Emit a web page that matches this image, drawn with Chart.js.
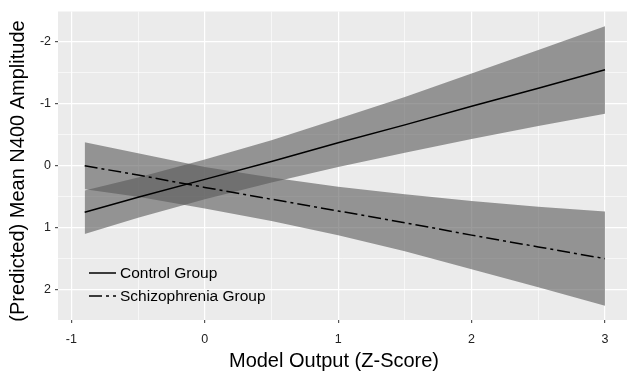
<!DOCTYPE html>
<html>
<head>
<meta charset="utf-8">
<script src="https://cdn.jsdelivr.net/npm/chart.js@4.4.0/dist/chart.umd.min.js"></script>
<style>
  body { margin: 0; background: #fff; }
  #wrap { width: 627px; height: 376px; position: relative; }
</style>
</head>
<body>
<div id="wrap"><canvas id="lineChart"></canvas></div>
<script>
// values
const xVals = [-0.9, -0.5, 0, 0.5, 1, 1.5, 2, 2.5, 3];
const controlFit = [0.75, 0.51, 0.22, -0.07, -0.37, -0.66, -0.96, -1.25, -1.55];
const controlUpper = [0.40, 0.19, -0.10, -0.41, -0.76, -1.11, -1.49, -1.87, -2.25];
const controlLower = [1.10, 0.84, 0.54, 0.27, 0.02, -0.21, -0.43, -0.64, -0.84];
const schizFit = [0.00, 0.15, 0.35, 0.54, 0.73, 0.92, 1.12, 1.31, 1.50];
const schizUpper = [-0.38, -0.20, 0.02, 0.19, 0.34, 0.46, 0.57, 0.66, 0.74];
const schizLower = [0.38, 0.50, 0.69, 0.89, 1.12, 1.38, 1.67, 1.96, 2.26];

const xTicks = [-1, 0, 1, 2, 3];
const xMinor = [-0.5, 0.5, 1.5, 2.5];
const yTicks = [-2, -1, 0, 1, 2];
const yMinor = [-1.5, -0.5, 0.5, 1.5];

const xTitle = "Model Output (Z-Score)";
const yTitle = "(Predicted) Mean N400 Amplitude";

const ribbonColor = "rgba(89, 89, 89, 0.6)";
const font = "'Liberation Sans', Arial, sans-serif";

const pts = (ys) => xVals.map((x, i) => ({ x: x, y: ys[i] }));

const isMajor = (v) => Number.isInteger(v);

const panelBg = {
  id: "panelBg",
  beforeDraw(chart) {
    const { ctx, chartArea: a } = chart;
    ctx.save();
    ctx.fillStyle = "#EBEBEB";
    ctx.fillRect(a.left, a.top, a.right - a.left, a.bottom - a.top);
    ctx.restore();
  }
};

const extras = {
  id: "extras",
  afterDraw(chart) {
    const { ctx } = chart;
    ctx.save();
    // axis titles
    ctx.fillStyle = "#000";
    ctx.font = "20px " + font;
    ctx.textAlign = "center";
    ctx.textBaseline = "middle";
    ctx.fillText(xTitle, 334, 361);
    ctx.translate(18, 171);
    ctx.rotate(-Math.PI / 2);
    ctx.fillText(yTitle, 0, 0);
    ctx.restore();

    // legend inside the panel
    ctx.save();
    ctx.font = "15.5px " + font;
    ctx.textBaseline = "middle";
    ctx.fillStyle = "#000";
    const rows = [273, 296];
    [0, 1].forEach((i, k) => {
      const ds = chart.data.datasets[i];
      ctx.beginPath();
      ctx.setLineDash(ds.borderDash || []);
      ctx.strokeStyle = ds.borderColor;
      ctx.lineWidth = ds.borderWidth;
      ctx.moveTo(89, rows[k]);
      ctx.lineTo(116, rows[k]);
      ctx.stroke();
      ctx.setLineDash([]);
      ctx.fillText(ds.label, 120, rows[k] + 1);
    });
    ctx.restore();
  }
};

const config = {
  type: "line",
  data: {
    datasets: [
      {
        label: "Control Group",
        data: pts(controlFit),
        borderColor: "#000",
        borderWidth: 1.5,
        pointRadius: 0,
        fill: false
      },
      {
        label: "Schizophrenia Group",
        data: pts(schizFit),
        borderColor: "#000",
        borderWidth: 1.5,
        borderDash: [13, 4, 3, 4],
        pointRadius: 0,
        fill: false
      },
      {
        label: "control upper",
        data: pts(controlUpper),
        borderWidth: 0,
        pointRadius: 0,
        backgroundColor: ribbonColor,
        fill: "+1"
      },
      {
        label: "control lower",
        data: pts(controlLower),
        borderWidth: 0,
        pointRadius: 0,
        fill: false
      },
      {
        label: "schiz upper",
        data: pts(schizUpper),
        borderWidth: 0,
        pointRadius: 0,
        backgroundColor: ribbonColor,
        fill: "+1"
      },
      {
        label: "schiz lower",
        data: pts(schizLower),
        borderWidth: 0,
        pointRadius: 0,
        fill: false
      }
    ]
  },
  options: {
    responsive: true,
    maintainAspectRatio: false,
    animation: false,
    layout: { padding: { top: 5, right: 0, left: 0, bottom: 0 } },
    plugins: {
      legend: { display: false },
      tooltip: { enabled: false }
    },
    scales: {
      x: {
        type: "linear",
        min: -1.1,
        max: 3.165,
        afterBuildTicks: (s) => {
          s.ticks = xTicks.concat(xMinor).sort((a, b) => a - b).map((v) => ({ value: v }));
        },
        afterFit: (s) => { s.height = 56; },
        border: { display: false },
        grid: {
          color: "#fff",
          lineWidth: (c) => (isMajor(c.tick.value) ? 1.2 : 0.6),
          tickColor: (c) => (isMajor(c.tick.value) ? "#555" : "rgba(0,0,0,0)"),
          tickLength: 3
        },
        ticks: {
          autoSkip: false,
          maxRotation: 0,
          padding: 9,
          color: "#222",
          font: { family: font, size: 12.5 },
          callback: (v) => (isMajor(v) ? String(v) : "")
        }
      },
      y: {
        type: "linear",
        reverse: true,
        min: -2.49,
        max: 2.49,
        afterBuildTicks: (s) => {
          s.ticks = yTicks.concat(yMinor).sort((a, b) => a - b).map((v) => ({ value: v }));
        },
        afterFit: (s) => { s.width = 58; },
        border: { display: false },
        grid: {
          color: "#fff",
          lineWidth: (c) => (isMajor(c.tick.value) ? 1.2 : 0.6),
          tickColor: (c) => (isMajor(c.tick.value) ? "#555" : "rgba(0,0,0,0)"),
          tickLength: 3
        },
        ticks: {
          autoSkip: false,
          padding: 4,
          color: "#222",
          font: { family: font, size: 12.5 },
          callback: (v) => (isMajor(v) ? String(v) : "")
        }
      }
    }
  },
  plugins: [panelBg, extras]
};

new Chart(document.getElementById("lineChart"), config);
</script>
</body>
</html>
